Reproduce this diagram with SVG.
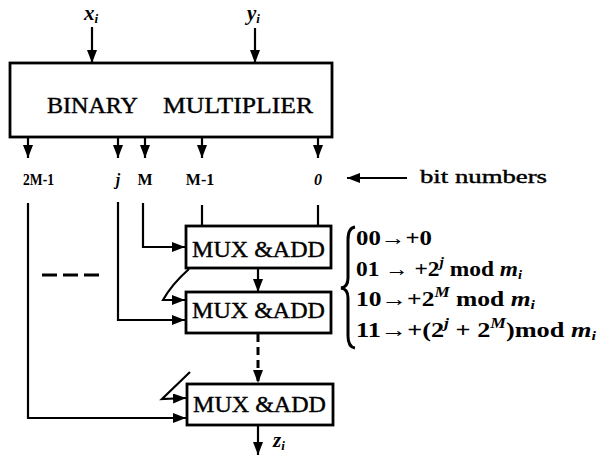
<svg xmlns="http://www.w3.org/2000/svg" width="598" height="457" viewBox="0 0 598 457">
  <style>
    text { font-family: "Liberation Serif", "Times New Roman", "DejaVu Serif", serif; fill: #000; }
    .box { fill: #fff; stroke: #000; stroke-width: 2.8; }
    .wire { fill: none; stroke: #000; stroke-width: 2.2; }
    .dash { fill: none; stroke: #000; stroke-width: 3; }
    .big { font-size: 23px; stroke: #000; stroke-width: 0.4; }
    .lbl { font-size: 16px; font-weight: bold; }
    .var { font-size: 21px; font-weight: bold; font-style: italic; }
    .frm { font-size: 21px; font-weight: bold; }
    .it { font-style: italic; }
    .note { font-size: 19px; stroke: #000; stroke-width: 0.4; }
  </style>
  <defs>
    <marker id="ah" viewBox="0 0 13 10" refX="13" refY="5" markerWidth="13" markerHeight="10" markerUnits="userSpaceOnUse" orient="auto">
      <path d="M0,0 L13,5 L0,10 z" fill="#000"/>
    </marker>
  </defs>

  <!-- multiplier block -->
  <g id="multiplier">
    <rect class="box" x="10" y="63" width="322" height="74"/>
    <text class="big" x="47" y="113" textLength="91" lengthAdjust="spacingAndGlyphs">BINARY</text>
    <text class="big" x="163" y="113" textLength="150" lengthAdjust="spacingAndGlyphs">MULTIPLIER</text>
  </g>

  <!-- operand inputs -->
  <g id="input-x">
    <text class="var" x="84" y="20">x<tspan font-size="13" dy="3">i</tspan></text>
  </g>
  <g id="input-y">
    <text class="var" x="247" y="20">y<tspan font-size="13" dy="3">i</tspan></text>
  </g>

  <!-- bit number labels -->
  <g id="bits">
    <text class="lbl" x="23" y="185" textLength="31" lengthAdjust="spacingAndGlyphs">2M-1</text>
    <text class="lbl it" x="118" y="185" text-anchor="middle">j</text>
    <text class="lbl" x="145" y="185" text-anchor="middle">M</text>
    <text class="lbl" x="200" y="185" text-anchor="middle">M-1</text>
    <text class="lbl it" x="318" y="185" text-anchor="middle">0</text>
  </g>

  <g id="bit-note">
    <text class="note" x="420" y="183" textLength="127" lengthAdjust="spacingAndGlyphs">bit numbers</text>
  </g>

  <!-- MUX & ADD stages -->
  <g id="mux1">
    <rect class="box" x="186" y="226" width="145" height="42"/>
    <text class="big" x="192" y="257" textLength="133" lengthAdjust="spacingAndGlyphs">MUX &amp;ADD</text>
  </g>
  <g id="mux2">
    <rect class="box" x="186" y="292" width="145" height="41"/>
    <text class="big" x="192" y="318" textLength="133" lengthAdjust="spacingAndGlyphs">MUX &amp;ADD</text>
  </g>
  <g id="mux3">
    <rect class="box" x="187" y="384" width="146" height="41"/>
    <text class="big" x="193" y="412" textLength="133" lengthAdjust="spacingAndGlyphs">MUX &amp;ADD</text>
  </g>

  <!-- selection rule -->
  <g id="rule">
    <path d="M355,227 Q348,228 348,240 L348,278 Q348,287 341,288 Q348,289 348,298 L348,336 Q348,347 355,348" fill="none" stroke="#000" stroke-width="3"/>
    <text class="frm" x="356" y="245" textLength="76" lengthAdjust="spacingAndGlyphs">00→+0</text>
    <text class="frm" x="356" y="276" textLength="166" lengthAdjust="spacingAndGlyphs">01 → +2<tspan class="it" font-size="14" dy="-9">j</tspan><tspan dy="9"> mod </tspan><tspan class="it">m</tspan><tspan class="it" font-size="13" dy="3">i</tspan></text>
    <text class="frm" x="356" y="306" textLength="179" lengthAdjust="spacingAndGlyphs">10→+2<tspan class="it" font-size="14" dy="-9">M</tspan><tspan dy="9"> mod </tspan><tspan class="it">m</tspan><tspan class="it" font-size="13" dy="3">i</tspan></text>
    <text class="frm" x="356" y="337" textLength="240" lengthAdjust="spacingAndGlyphs">11→+(2<tspan class="it" font-size="14" dy="-9">j</tspan><tspan dy="9"> + 2</tspan><tspan class="it" font-size="14" dy="-9">M</tspan><tspan dy="9">)mod </tspan><tspan class="it">m</tspan><tspan class="it" font-size="13" dy="3">i</tspan></text>
  </g>

  <g id="output-z">
    <text class="var" x="273" y="447">z<tspan font-size="13" dy="3">i</tspan></text>
  </g>

  <!-- connectors -->
  <g id="connectors">
    <line class="wire" x1="92" y1="27" x2="92" y2="63" marker-end="url(#ah)"/>
    <line class="wire" x1="255" y1="28" x2="255" y2="63" marker-end="url(#ah)"/>

    <line class="wire" x1="28" y1="138" x2="28" y2="158" marker-end="url(#ah)"/>
    <line class="wire" x1="118" y1="138" x2="118" y2="158" marker-end="url(#ah)"/>
    <line class="wire" x1="145" y1="138" x2="145" y2="158" marker-end="url(#ah)"/>
    <line class="wire" x1="202" y1="138" x2="202" y2="158" marker-end="url(#ah)"/>
    <line class="wire" x1="318" y1="138" x2="318" y2="158" marker-end="url(#ah)"/>

    <line class="wire" x1="407" y1="178" x2="347" y2="178" marker-end="url(#ah)"/>

    <polyline class="wire" points="28,203 28,418 186,418" marker-end="url(#ah)"/>
    <polyline class="wire" points="118,202 118,320 185,320" marker-end="url(#ah)"/>
    <polyline class="wire" points="143,203 143,247 185,247" marker-end="url(#ah)"/>
    <line class="wire" x1="202" y1="205" x2="202" y2="226"/>
    <line class="wire" x1="318" y1="205" x2="318" y2="226"/>

    <line class="wire" x1="258" y1="268" x2="258" y2="292" marker-end="url(#ah)"/>
    <path class="wire" d="M189,269 Q172,284 163,300 L185,300" marker-end="url(#ah)"/>

    <line class="dash" x1="258" y1="334" x2="258" y2="383" stroke-dasharray="8 5" marker-end="url(#ah)"/>
    <path class="wire" d="M190,372 L162,399 L186,398" marker-end="url(#ah)"/>

    <line class="wire" x1="258" y1="425" x2="258" y2="455" marker-end="url(#ah)"/>

    <line class="dash" x1="42" y1="275" x2="100" y2="275" stroke-dasharray="15 6"/>
  </g>
</svg>
